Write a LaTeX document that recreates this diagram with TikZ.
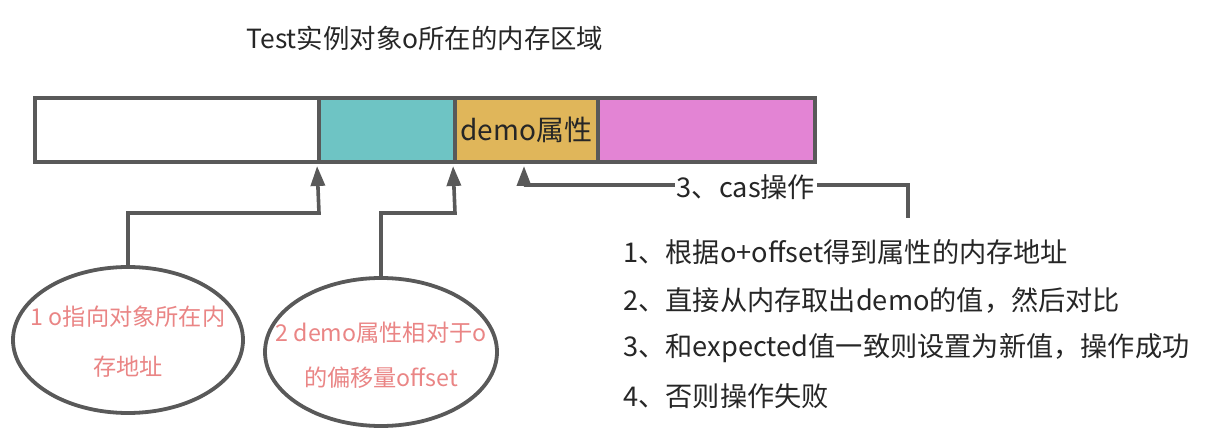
\documentclass[tikz,border=0pt]{standalone}
\usepackage{fontspec}
\setmainfont{Noto Sans CJK SC}
\usetikzlibrary{arrows.meta,positioning,shapes.geometric}
\definecolor{edge}{HTML}{595959}
\definecolor{ink}{HTML}{262626}
\definecolor{tealcell}{HTML}{6EC4C4}
\definecolor{goldcell}{HTML}{E0B65A}
\definecolor{pinkcell}{HTML}{E384D4}
\definecolor{salmon}{HTML}{EA8585}
\tikzset{
  memcell/.style={
    rectangle, draw=edge, fill=#1, line width=2pt,
    minimum height=32pt, inner sep=0pt,
    font=\fontsize{14}{17}\selectfont, text=ink
  },
  memcell/.default=white,
  noteell/.style={ellipse, draw=edge, line width=1.9pt, fill=white, inner sep=0pt},
  notetext/.style={text=salmon, align=center, inner sep=0pt,
    font=\fontsize{11.6}{#1}\selectfont},
  notetext/.default=25pt,
  ptrarrow/.style={
    -{Triangle[length=10pt,width=7pt]}, line width=1.8pt, draw=edge,
    shorten >=1pt
  },
  steptext/.style={anchor=west, inner sep=0pt, text=ink,
    font=\fontsize{13.6}{16}\selectfont},
}

\begin{document}
\begin{tikzpicture}[x=0.5pt, y=-0.5pt]
  \useasboundingbox (0,0) rectangle (1214,432);
  \node[steptext, anchor=center, font=\fontsize{13.2}{16}\selectfont] (title) at (425,38) {Test实例对象o所在的内存区域};
  % memory layout of o
  \node[memcell, minimum width=142pt] (cellA) at (177,130) {};
  \node[memcell=tealcell, minimum width=68pt] (cellB) at (387,130) {};
  \node[memcell=goldcell, minimum width=71.5pt] (cellC) at (526.5,130) {demo属性};
  \node[memcell=pinkcell, minimum width=108.5pt] (cellD) at (706.5,130) {};
  % notes
  \node[noteell, minimum width=115pt, minimum height=73pt] (ptrell) at (128,340) {};
  \node[notetext] (ptrnote) at (128,342) {1 o指向对象所在内\\存地址};
  \node[noteell, minimum width=116pt, minimum height=74pt] (offell) at (381,352) {};
  \node[notetext=22.5pt] (offnote) at (381,355) {2 demo属性相对于o\\的偏移量offset};
  \coordinate (ptrbend) at (319,213);
  \coordinate (offbend) at (455,213);
  \draw[ptrarrow] (ptrell.north) |- (ptrbend) -- (cellB.south west);
  \draw[ptrarrow] (offell.north) |- (offbend) -- (cellC.south west);
  % cas
  \coordinate (casfoot) at (908,218);
  \coordinate (casbend) at (524,185);
  \draw[ptrarrow] (casfoot) |- (casbend) -- (casbend |- cellC.south);
  \node[steptext, anchor=center, fill=white, inner sep=1pt] (caslabel) at (746,187) {3、cas操作};
  \foreach \n/\t in {1/{1、根据o+offset得到属性的内存地址},
                     2/{2、直接从内存取出demo的值，然后对比},
                     3/{3、和expected值一致则设置为新值，操作成功},
                     4/{4、否则操作失败}}
    \node[steptext] (step\n) at (623,204+48*\n) {\t};
\end{tikzpicture}
\end{document}
